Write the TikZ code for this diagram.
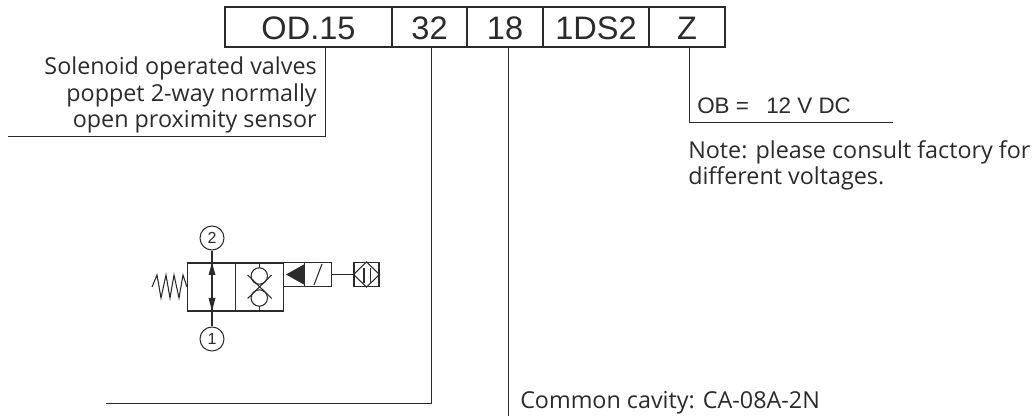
\documentclass[tikz,border=0pt]{standalone}
\usepackage{fontspec}
\setmainfont{Open Sans}
\newfontfamily\arialfont{Liberation Sans}
\usepackage{tikz}
\usetikzlibrary{positioning,chains}

\definecolor{inkgrey}{HTML}{2B2B2B}

\begin{document}
\begin{tikzpicture}[x=0.75pt,y=-0.75pt,color=inkgrey]
	\useasboundingbox (0,0) rectangle (1035,416);
	\tikzstyle{idcell}=[draw,line width=1.5pt,minimum height=30pt,inner sep=0pt,text height=19.5pt,text depth=0pt,font=\arialfont\fontsize{24.4}{24}\selectfont]
	\tikzstyle{leader}=[line width=0.7pt]
	\tikzstyle{note}=[inner sep=0pt,font=\fontsize{17.5}{19}\selectfont]
	\tikzstyle{obnote}=[inner sep=0pt,font=\arialfont\fontsize{16.8}{19}\selectfont]
	\tikzstyle{sym}=[line width=0.8pt]
	\tikzstyle{symbox}=[draw,sym,inner sep=0pt,minimum width=36pt,minimum height=36pt]
	\tikzstyle{port}=[draw,sym,circle,inner sep=0pt,minimum size=18pt,font=\arialfont\fontsize{12}{12}\selectfont]

	%% Code box
	\begin{scope}[start chain=1 going right,node distance=-1.5pt]
	    \node [on chain=1,idcell,minimum width=125.25pt] (cellseries) at (308.5,27) {OD.15};
	    \node [on chain=1,idcell,minimum width=56.25pt] (cellflow) {32};
	    \node [on chain=1,idcell,minimum width=57pt] (cellport) {18};
	    \node [on chain=1,idcell,minimum width=79.5pt] (cellcoil) {1DS2};
	    \node [on chain=1,idcell,minimum width=57pt] (cellvolt) {Z};
	\end{scope}

	%% Leader ends
	\coordinate (seriesend) at (8,136);
	\coordinate (flowend) at (106,403);
	\coordinate (portend) at (508,416);
	\coordinate (voltend) at (893,122);
	\coordinate (seriestop) at (325,47);
	\coordinate (flowtop) at (431,47);
	\coordinate (porttop) at (508,47);
	\coordinate (volttop) at (689,47);

	\draw[leader] (seriestop) |- (seriesend);
	\draw[leader] (flowtop) |- (flowend);
	\draw[leader] (porttop) -- (portend);
	\draw[leader] (volttop) |- (voltend);

	%% Texts
	\node[note,anchor=base east] (solenoid) at (317,75) {Solenoid operated valves};
	\node[note,anchor=base east] (poppet) at (317,102) {poppet 2-way normally};
	\node[note,anchor=base east] (sensor) at (317,128) {open proximity sensor};
	\node[obnote,anchor=base west] (obcode) at (697,114) {OB =};
	\node[obnote,anchor=base west] (obvolt) at (766,114) {12 V DC};
	\node[note,anchor=base west] (notea) at (688,159) {Note: please consult factory for};
	\node[note,anchor=base west] (noteb) at (688,185) {different voltages.};
	\node[note,anchor=base west] (cavity) at (520,409) {Common cavity: CA-08A-2N};

	%% Valve symbol
	\node[symbox] (envopen) at (211.5,287) {};
	\node[symbox] (envclosed) at (259.5,287) {};
	\node[draw,sym,inner sep=0pt,minimum width=36pt,minimum height=18pt] (coil) at (307.5,274.5) {};
	\node[draw,sym,inner sep=0pt,minimum width=18.75pt,minimum height=18pt] (plug) at (366.5,274.5) {};
	\node[port] (porttwo) at (212,238) {2};
	\node[port] (portone) at (212,339) {1};

	\draw[sym] (porttwo) -- (portone);
	\fill (212,262.7) -- (208.5,275) -- (215.5,275) -- cycle;
	\fill (212,311) -- (208.5,298) -- (215.5,298) -- cycle;

	\draw[sym] (152,287) -- (157,275) -- (161,298) -- (166,275) -- (170,298) -- (174,275) -- (179,298) -- (183,275) -- (envopen.west);

	\draw[sym] (259.3,263) -- (259.3,268) (259.3,306) -- (259.3,311);
	\draw[sym] (259.3,276) circle (8.2);
	\draw[sym] (259.3,298) circle (8.2);
	\draw[sym] (247.7,275) -- (271.7,298.5) (271.7,275) -- (247.7,298.5);

	\draw[sym] (304.7,263) -- (304.7,286);
	\fill (286,274.5) -- (304.7,264) -- (304.7,285) -- cycle;
	\draw[sym] (314,285) -- (322,264);

	\draw[sym] (coil) -- (plug);
	\draw[sym] (plug.west) -- (plug.north) -- (plug.east) -- (plug.south) -- cycle;
	\draw[sym] (364,268) -- (364,282.7) (370.6,268) -- (370.6,282.7);
\end{tikzpicture}
\end{document}
